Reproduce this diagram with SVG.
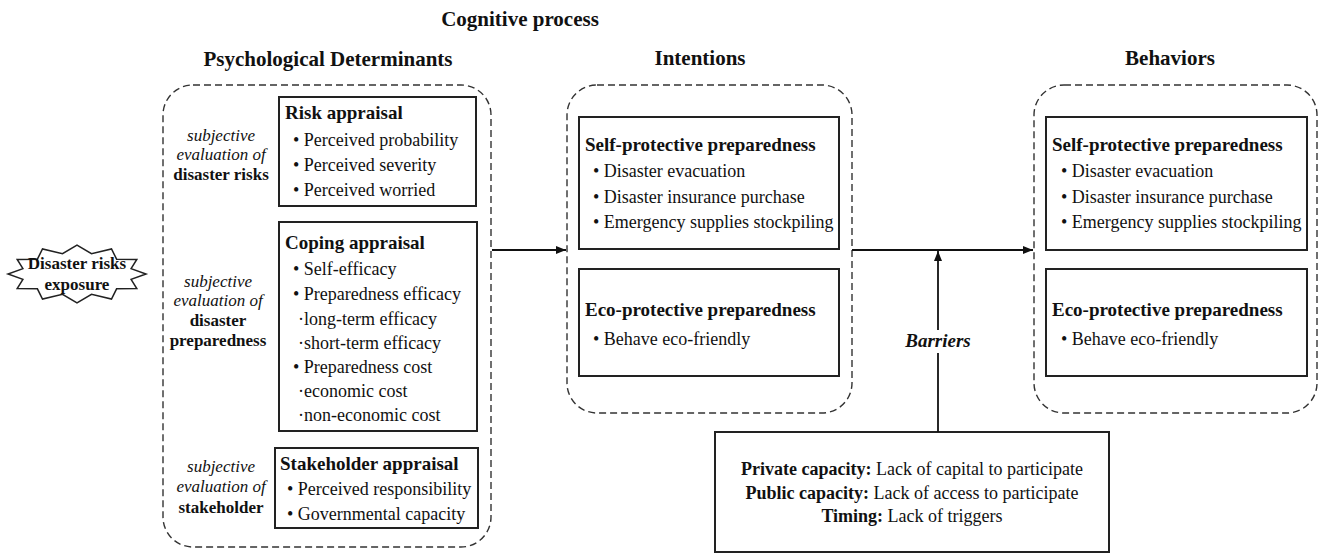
<svg xmlns="http://www.w3.org/2000/svg" width="1319" height="553" viewBox="0 0 1319 553">
<defs>
<style>
text{font-family:"Liberation Serif","Times New Roman",serif;fill:#111}
.title{font-size:21px;font-weight:bold}
.hdr{font-size:19px;font-weight:bold}
.item{font-size:18px}
.it{font-size:17px;font-style:italic}
.bd{font-size:17px;font-weight:bold}
.dash{fill:none;stroke:#333;stroke-width:1.4;stroke-dasharray:7 4}
.box{fill:#fff;stroke:#222;stroke-width:2}
.conn{stroke:#111;stroke-width:1.8;fill:none}
</style>
<marker id="ah" viewBox="0 0 10 10" refX="10" refY="5" markerWidth="10" markerHeight="10" markerUnits="userSpaceOnUse" orient="auto">
<path d="M0,1 L10,5 L0,9 Z" fill="#111"/>
</marker>
</defs>
<rect width="1319" height="553" fill="#fff"/>

<g id="titles">
<text class="title" x="520" y="26" text-anchor="middle">Cognitive process</text>
<text class="title" x="328" y="66" text-anchor="middle">Psychological Determinants</text>
<text class="title" x="700" y="65" text-anchor="middle">Intentions</text>
<text class="title" x="1170" y="65" text-anchor="middle">Behaviors</text>
</g>

<g id="exposure">
<polygon points="146,274 131.1,279.4 136.8,288.5 116.6,288.8 111.5,299.1 91.5,294.3 77,303 62.5,294.3 42.5,299.1 37.4,288.8 17.2,288.5 22.9,279.4 8,274 22.9,268.6 17.2,259.5 37.4,259.2 42.5,248.9 62.5,253.7 77,245 91.5,253.7 111.5,248.9 116.6,259.2 136.8,259.5 131.1,268.6" fill="#fff" stroke="#222" stroke-width="1.5"/>
<text class="bd" x="77" y="269" text-anchor="middle">Disaster risks</text>
<text class="bd" x="77" y="290" text-anchor="middle">exposure</text>
</g>

<g id="psych">
<rect class="dash" x="163" y="85" width="328" height="462" rx="30"/>
<g id="risk-label">
<text class="it" x="221" y="141" text-anchor="middle">subjective</text>
<text class="it" x="221" y="160" text-anchor="middle">evaluation of</text>
<text class="bd" x="221" y="180" text-anchor="middle">disaster risks</text>
</g>
<g id="risk-appraisal">
<rect class="box" x="279" y="97" width="197" height="109"/>
<text class="hdr" x="285" y="119">Risk appraisal</text>
<text class="item" x="293" y="146">• Perceived probability</text>
<text class="item" x="293" y="171">• Perceived severity</text>
<text class="item" x="293" y="196">• Perceived worried</text>
</g>
<g id="coping-label">
<text class="it" x="218" y="287" text-anchor="middle">subjective</text>
<text class="it" x="218" y="306" text-anchor="middle">evaluation of</text>
<text class="bd" x="218" y="326" text-anchor="middle">disaster</text>
<text class="bd" x="218" y="346" text-anchor="middle">preparedness</text>
</g>
<g id="coping-appraisal">
<rect class="box" x="279" y="222" width="198" height="209"/>
<text class="hdr" x="285" y="249">Coping appraisal</text>
<text class="item" x="293" y="275">• Self-efficacy</text>
<text class="item" x="293" y="300">• Preparedness efficacy</text>
<text class="item" x="298" y="325">·long-term efficacy</text>
<text class="item" x="298" y="349">·short-term efficacy</text>
<text class="item" x="293" y="373">• Preparedness cost</text>
<text class="item" x="298" y="397">·economic cost</text>
<text class="item" x="298" y="421">·non-economic cost</text>
</g>
<g id="stake-label">
<text class="it" x="221" y="472" text-anchor="middle">subjective</text>
<text class="it" x="221" y="492" text-anchor="middle">evaluation of</text>
<text class="bd" x="221" y="513" text-anchor="middle">stakeholder</text>
</g>
<g id="stakeholder-appraisal">
<rect class="box" x="275" y="448" width="203" height="80"/>
<text class="hdr" x="280" y="470">Stakeholder appraisal</text>
<text class="item" x="287" y="495">• Perceived responsibility</text>
<text class="item" x="287" y="520">• Governmental capacity</text>
</g>
</g>

<g id="intentions">
<rect class="dash" x="567" y="85" width="285" height="328" rx="30"/>
<g id="int-self">
<rect class="box" x="579" y="117" width="260" height="132"/>
<text class="hdr" x="585" y="151">Self-protective preparedness</text>
<text class="item" x="593" y="177">• Disaster evacuation</text>
<text class="item" x="593" y="203">• Disaster insurance purchase</text>
<text class="item" x="593" y="228">• Emergency supplies stockpiling</text>
</g>
<g id="int-eco">
<rect class="box" x="579" y="269" width="260" height="107"/>
<text class="hdr" x="585" y="316">Eco-protective preparedness</text>
<text class="item" x="593" y="345">• Behave eco-friendly</text>
</g>
</g>

<g id="behaviors">
<rect class="dash" x="1034" y="85" width="283" height="328" rx="30"/>
<g id="beh-self">
<rect class="box" x="1046" y="117" width="261" height="133"/>
<text class="hdr" x="1052" y="151">Self-protective preparedness</text>
<text class="item" x="1061" y="177">• Disaster evacuation</text>
<text class="item" x="1061" y="203">• Disaster insurance purchase</text>
<text class="item" x="1061" y="228">• Emergency supplies stockpiling</text>
</g>
<g id="beh-eco">
<rect class="box" x="1046" y="269" width="261" height="107"/>
<text class="hdr" x="1052" y="316">Eco-protective preparedness</text>
<text class="item" x="1061" y="345">• Behave eco-friendly</text>
</g>
</g>

<g id="barriers-box">
<rect class="box" x="715" y="432" width="394" height="120"/>
<text class="item" x="912" y="475" text-anchor="middle"><tspan font-weight="bold">Private capacity:</tspan> Lack of capital to participate</text>
<text class="item" x="912" y="499" text-anchor="middle"><tspan font-weight="bold">Public capacity:</tspan> Lack of access to participate</text>
<text class="item" x="912" y="522" text-anchor="middle"><tspan font-weight="bold">Timing:</tspan> Lack of triggers</text>
</g>

<g id="connectors">
<line class="conn" x1="492" y1="250" x2="566" y2="250" marker-end="url(#ah)"/>
<line class="conn" x1="852" y1="250" x2="1033" y2="250" marker-end="url(#ah)"/>
<line class="conn" x1="938" y1="432" x2="938" y2="353"/>
<line class="conn" x1="938" y1="330" x2="938" y2="251" marker-end="url(#ah)"/>
<text x="938" y="347" text-anchor="middle" font-size="19" font-weight="bold" font-style="italic">Barriers</text>
</g>
</svg>
